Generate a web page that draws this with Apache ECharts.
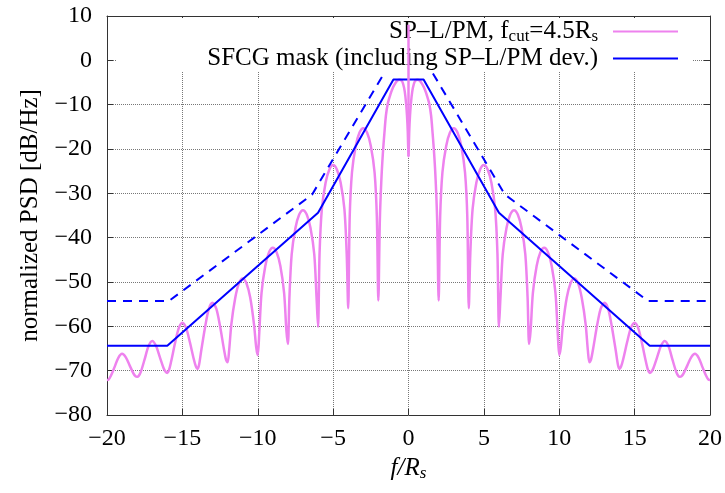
<!DOCTYPE html>
<html>
<head>
<meta charset="utf-8">
<script src="https://cdn.jsdelivr.net/npm/echarts@6/dist/echarts.min.js"></script>
<style>
html,body{margin:0;padding:0;background:#fff;}
#chart{width:725px;height:493px;}
</style>
</head>
<body>
<div id="chart"></div>
<script>
// ---- data ----
const xTicks = [-20, -15, -10, -5, 0, 5, 10, 15, 20];
const yTicks = [-80, -70, -60, -50, -40, -30, -20, -10, 0, 10];

const psdName = 'SP–L/PM, f_cut=4.5R_s';
const maskName = 'SFCG mask (including SP–L/PM dev.)';

// SP-L/PM PSD (dB/Hz) vs f/Rs
const psdFreq = [
  -20, -19.9, -19.75, -19.5, -19.25, -19, -18.75, -18.5, -18.25, -18.1,
  -18, -17.9, -17.75, -17.5, -17.25, -17, -16.75, -16.5, -16.25, -16.1,
  -16, -15.9, -15.75, -15.5, -15.25, -15, -14.75, -14.5, -14.25, -14.1,
  -14, -13.9, -13.75, -13.5, -13.25, -13, -12.75, -12.5, -12.25, -12.1,
  -12, -11.9, -11.75, -11.5, -11.25, -11, -10.75, -10.5, -10.25, -10.1,
  -10, -9.9, -9.75, -9.5, -9.25, -9, -8.75, -8.5, -8.25, -8.1,
  -8, -7.9, -7.75, -7.5, -7.25, -7, -6.75, -6.5, -6.25, -6.1,
  -6, -5.9, -5.75, -5.5, -5.25, -5, -4.75, -4.5, -4.25, -4.1,
  -4, -3.9, -3.75, -3.5, -3.25, -3, -2.75, -2.5, -2.25, -2.1,
  -2, -1.9, -1.8, -1.7, -1.6, -1.5, -1.37, -1.2, -1.05, -0.9,
  -0.75, -0.6, -0.45, -0.35, -0.25, -0.16, -0.1, -0.05,
  0,
  0.05, 0.1, 0.16, 0.25, 0.35, 0.45, 0.6, 0.75,
  0.9, 1.05, 1.2, 1.37, 1.5, 1.6, 1.7, 1.8, 1.9, 2,
  2.1, 2.25, 2.5, 2.75, 3, 3.25, 3.5, 3.75, 3.9, 4,
  4.1, 4.25, 4.5, 4.75, 5, 5.25, 5.5, 5.75, 5.9, 6,
  6.1, 6.25, 6.5, 6.75, 7, 7.25, 7.5, 7.75, 7.9, 8,
  8.1, 8.25, 8.5, 8.75, 9, 9.25, 9.5, 9.75, 9.9, 10,
  10.1, 10.25, 10.5, 10.75, 11, 11.25, 11.5, 11.75, 11.9, 12,
  12.1, 12.25, 12.5, 12.75, 13, 13.25, 13.5, 13.75, 13.9, 14,
  14.1, 14.25, 14.5, 14.75, 15, 15.25, 15.5, 15.75, 15.9, 16,
  16.1, 16.25, 16.5, 16.75, 17, 17.25, 17.5, 17.75, 17.9, 18,
  18.1, 18.25, 18.5, 18.75, 19, 19.25, 19.5, 19.75, 19.9, 20
];
const psdDb = [
  -72.1, -72.0, -71.2, -69.2, -67.1, -66.2, -67.0, -68.8, -70.6, -71.3,
  -71.4, -71.2, -70.2, -67.4, -64.5, -63.3, -64.4, -66.9, -69.4, -70.3,
  -70.5, -70.0, -68.0, -64.0, -60.5, -59.2, -60.4, -63.6, -67.3, -69.1,
  -69.6, -68.8, -65.5, -60.3, -56.1, -54.7, -56.0, -60.0, -65.0, -67.6,
  -68.1, -65.5, -59.5, -53.7, -50.3, -49.2, -50.3, -53.5, -59.5, -64.8,
  -66.5, -61.5, -52.5, -46.4, -43.3, -42.3, -43.3, -46.4, -52.5, -61.0,
  -64.0, -53.5, -43.8, -37.8, -34.8, -33.8, -34.8, -37.8, -43.8, -53.5,
  -60.1, -43.6, -33.6, -27.6, -24.6, -23.6, -24.6, -27.6, -33.6, -43.6,
  -55.9, -35.3, -25.3, -19.3, -16.3, -15.3, -16.3, -19.3, -25.3, -35.3,
  -54.2, -36.0, -27.0, -21.0, -16.5, -12.5, -9.7, -7.7, -6.3, -5.3,
  -4.6, -4.4, -4.6, -5.4, -7.0, -9.7, -12.5, -16.0,
  -21.7,
  -16.0, -12.5, -9.7, -7.0, -5.4, -4.6, -4.4, -4.6,
  -5.3, -6.3, -7.7, -9.7, -12.5, -16.5, -21.0, -27.0, -36.0, -54.2,
  -35.3, -25.3, -19.3, -16.3, -15.3, -16.3, -19.3, -25.3, -35.3, -55.9,
  -43.6, -33.6, -27.6, -24.6, -23.6, -24.6, -27.6, -33.6, -43.6, -60.1,
  -53.5, -43.8, -37.8, -34.8, -33.8, -34.8, -37.8, -43.8, -53.5, -64.0,
  -61.0, -52.5, -46.4, -43.3, -42.3, -43.3, -46.4, -52.5, -61.5, -66.5,
  -64.8, -59.5, -53.5, -50.3, -49.2, -50.3, -53.7, -59.5, -65.5, -68.1,
  -67.6, -65.0, -60.0, -56.0, -54.7, -56.1, -60.3, -65.5, -68.8, -69.6,
  -69.1, -67.3, -63.6, -60.4, -59.2, -60.5, -64.0, -68.0, -70.0, -70.5,
  -70.3, -69.4, -66.9, -64.4, -63.3, -64.5, -67.4, -70.2, -71.2, -71.4,
  -71.3, -70.6, -68.8, -67.0, -66.2, -67.1, -69.2, -71.2, -72.0, -72.1
];

// discrete carrier line at f = 0
const lineFreq = [0, 0];
const lineDb = [-21.7, 8];

// SFCG mask (solid)
const maskFreq = [-20, -16, -6, -1, 1, 6, 16, 20];
const maskDb = [-64.4, -64.4, -34.4, -4.3, -4.3, -34.4, -64.4, -64.4];

// dashed mask
const dashFreq = [-20, -15.9, -6.4, -1, 1, 6.4, 15.9, 20];
const dashDb = [-54.3, -54.3, -30.3, 0.6, 0.6, -30.3, -54.3, -54.3];

// ---- chart ----
const zip = (a, b) => a.map((v, i) => [v, b[i]]);
const FONT = 'Liberation Serif';
const minus = v => String(v).replace('-', '\u2212');

const xMin = xTicks[0], xMax = xTicks[xTicks.length - 1];
const xStep = xTicks[1] - xTicks[0];
const yMin = yTicks[0], yMax = yTicks[yTicks.length - 1];
const yStep = yTicks[1] - yTicks[0];

const borderLine = { show: true, onZero: false, lineStyle: { color: '#333', width: 1 } };
const tickIn = { show: true, inside: true, length: 6, lineStyle: { color: '#333', width: 1 } };
const gridLine = { show: true, lineStyle: { color: '#777', width: 1, type: 'dotted' } };

const chart = echarts.init(document.getElementById('chart'));
chart.setOption({
  animation: false,
  backgroundColor: '#fff',
  grid: { left: 107, right: 15, top: 16, bottom: 78 },
  legend: {
    data: [psdName, maskName],
    orient: 'vertical',
    align: 'right',
    right: 33,
    top: 18,
    icon: 'rect',
    itemWidth: 65,
    itemHeight: 2,
    itemGap: 0,
    backgroundColor: '#fff',
    padding: [0, 14, 0, 91],
    formatter: name => name.replace(/_(\w+)/g, '{sub|$1}'),
    textStyle: {
      fontFamily: FONT, fontSize: 25, color: '#000', lineHeight: 27,
      padding: [0, 10, 0, 0],
      rich: { sub: { fontFamily: FONT, fontSize: 17, lineHeight: 8, verticalAlign: 'bottom', color: '#000' } }
    }
  },
  xAxis: [{
    type: 'value', min: xMin, max: xMax, interval: xStep,
    axisLine: borderLine, axisTick: tickIn, splitLine: gridLine,
    axisLabel: { fontFamily: FONT, fontSize: 24, color: '#000', margin: 12, formatter: minus },
    name: '{it|f/R}{sub|s}', nameLocation: 'middle', nameGap: 40,
    nameTextStyle: {
      rich: {
        it: { fontFamily: FONT, fontSize: 25, fontStyle: 'italic', color: '#000', lineHeight: 27 },
        sub: { fontFamily: FONT, fontSize: 17, fontStyle: 'italic', color: '#000', lineHeight: 8, verticalAlign: 'bottom' }
      }
    }
  }, {
    type: 'value', position: 'top', min: xMin, max: xMax, interval: xStep,
    axisLine: borderLine, axisTick: tickIn, splitLine: { show: false },
    axisLabel: { show: false }
  }],
  yAxis: [{
    type: 'value', min: yMin, max: yMax, interval: yStep,
    axisLine: borderLine, axisTick: tickIn, splitLine: gridLine,
    axisLabel: { fontFamily: FONT, fontSize: 24, color: '#000', margin: 15, formatter: minus },
    name: 'normalized PSD [dB/Hz]', nameLocation: 'middle', nameRotate: 90, nameGap: 64,
    nameTextStyle: { fontFamily: FONT, fontSize: 25, color: '#000' }
  }, {
    type: 'value', position: 'right', min: yMin, max: yMax, interval: yStep,
    axisLine: borderLine, axisTick: tickIn, splitLine: { show: false },
    axisLabel: { show: false }
  }],
  series: [
    {
      name: psdName, type: 'line', data: zip(psdFreq, psdDb),
      symbol: 'none', smooth: 0.3, z: 3,
      lineStyle: { color: '#ee82ee', width: 2.5 }, itemStyle: { color: '#ee82ee' }
    },
    {
      name: psdName, type: 'line', data: zip(lineFreq, lineDb),
      symbol: 'none', z: 6,
      lineStyle: { color: '#ee82ee', width: 2.5 }, itemStyle: { color: '#ee82ee' }
    },
    {
      name: maskName, type: 'line', data: zip(maskFreq, maskDb),
      symbol: 'none', z: 3,
      lineStyle: { color: '#0000ff', width: 2 }, itemStyle: { color: '#0000ff' }
    },
    {
      name: 'mask dashed', type: 'line', data: zip(dashFreq, dashDb),
      symbol: 'none', z: 3,
      lineStyle: { color: '#0000ff', width: 2, type: [9, 7] }, itemStyle: { color: '#0000ff' }
    }
  ]
});
</script>
</body>
</html>
